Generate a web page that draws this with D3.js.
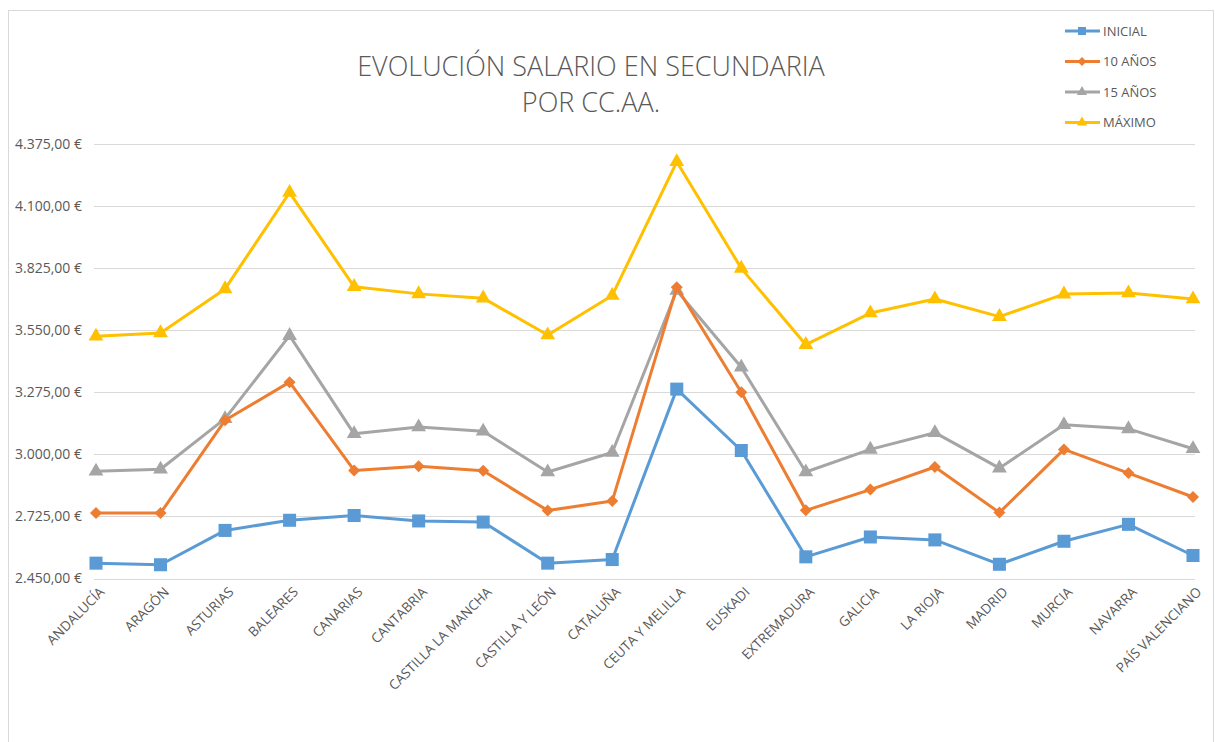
<!DOCTYPE html>
<html>
<head>
<meta charset="utf-8">
<script src="https://cdn.jsdelivr.net/npm/d3@7"></script>
<style>
  body { margin: 0; background: #fff; font-family: "Open Sans", sans-serif; }
  .grid line { stroke: #d9d9d9; stroke-width: 1; }
  .axis text { fill: #595959; font-size: 13.5px; }
</style>
</head>
<body>
<div id="chart"></div>
<script>
// categories (comunidades autónomas)
const regions = [
  "ANDALUCÍA", "ARAGÓN", "ASTURIAS", "BALEARES", "CANARIAS", "CANTABRIA",
  "CASTILLA LA MANCHA", "CASTILLA Y LEÓN", "CATALUÑA", "CEUTA Y MELILLA",
  "EUSKADI", "EXTREMADURA", "GALICIA", "LA RIOJA", "MADRID", "MURCIA",
  "NAVARRA", "PAÍS VALENCIANO"
];

// series values (€ / month)
const inicial = [2518, 2511, 2663, 2708, 2729, 2705, 2700, 2518, 2534, 3289, 3017, 2546, 2634, 2621, 2513, 2615, 2690, 2552];
const diezAnos = [2740, 2740, 3151, 3320, 2929, 2947, 2927, 2751, 2793, 3740, 3275, 2752, 2844, 2944, 2742, 3022, 2917, 2811];
const quinceAnos = [2925, 2934, 3158, 3526, 3091, 3121, 3102, 2922, 3008, 3726, 3386, 2922, 3022, 3096, 2939, 3131, 3113, 3025];
const maximo = [3523, 3538, 3733, 4160, 3743, 3711, 3692, 3529, 3704, 4296, 3824, 3486, 3626, 3688, 3610, 3710, 3715, 3688];

const yTicks = [2450, 2725, 3000, 3275, 3550, 3825, 4100, 4375];

const series = [
  { name: "INICIAL", values: inicial, color: "#5B9BD5", marker: "square" },
  { name: "10 AÑOS", values: diezAnos, color: "#ED7D31", marker: "diamond" },
  { name: "15 AÑOS", values: quinceAnos, color: "#A5A5A5", marker: "triangle" },
  { name: "MÁXIMO", values: maximo, color: "#FFC000", marker: "triangle" }
];

const width = 1215;
const height = 742;
const margin = { top: 144, right: 20, bottom: 163, left: 96 };
const plotRight = 1193;

const svg = d3.select("#chart")
  .append("svg")
  .attr("width", width)
  .attr("height", height);

// chart border
svg.append("rect")
  .attr("x", 8.5)
  .attr("y", 10.5)
  .attr("width", width - 10)
  .attr("height", height - 5)
  .attr("fill", "none")
  .attr("stroke", "#d9d9d9");

const x = d3.scalePoint()
  .domain(regions)
  .range([margin.left, plotRight]);

const y = d3.scaleLinear()
  .domain([2450, 4375])
  .range([height - margin.bottom - 0.5, margin.top]);

const es = d3.formatLocale({ decimal: ",", thousands: ".", grouping: [3], currency: ["", " €"] });
const fmt = v => es.format(",.2f")(v) + " €";

// gridlines
svg.append("g")
  .attr("class", "grid")
  .selectAll("line")
  .data(yTicks)
  .join("line")
  .attr("x1", margin.left - 2)
  .attr("x2", plotRight + 2)
  .attr("y1", d => Math.round(y(d)) + 0.5)
  .attr("y2", d => Math.round(y(d)) + 0.5);

// y axis labels
svg.append("g")
  .attr("class", "axis")
  .selectAll("text")
  .data(yTicks)
  .join("text")
  .attr("x", 82)
  .attr("y", d => y(d))
  .attr("dy", "0.35em")
  .attr("text-anchor", "end")
  .style("font-size", "14px")
  .text(fmt);

// x axis labels, rotated
svg.append("g")
  .attr("class", "axis")
  .selectAll("text")
  .data(regions)
  .join("text")
  .attr("transform", d => `translate(${x(d) + 6},${y(2450) + 11}) rotate(-45)`)
  .attr("text-anchor", "end")
  .attr("dy", "0.35em")
  .text(d => d);

// title
const title = svg.append("text")
  .attr("x", 591)
  .attr("y", 76)
  .attr("text-anchor", "middle")
  .attr("fill", "#595959")
  .style("font-size", "27px")
  .style("font-weight", 300);
title.append("tspan").attr("x", 591).text("EVOLUCIÓN SALARIO EN SECUNDARIA");
title.append("tspan").attr("x", 591).attr("dy", 36).text("POR CC.AA.");

function markerPath(type) {
  if (type === "square") return d3.symbol(d3.symbolSquare, 170)();
  if (type === "diamond") return "M0,-6L6,0L0,6L-6,0Z";
  return d3.symbol(d3.symbolTriangle, 95)();
}

const line = d3.line()
  .x((d, i) => x(regions[i]))
  .y(d => y(d));

const lines = svg.append("g");
series.slice().reverse().forEach(s => {
  const g = lines.append("g");
  g.append("path")
    .attr("d", line(s.values))
    .attr("fill", "none")
    .attr("stroke", s.color)
    .attr("stroke-width", 3)
    .attr("stroke-linejoin", "round");
  g.selectAll("path.pt")
    .data(s.values)
    .join("path")
    .attr("class", "pt")
    .attr("transform", (d, i) => `translate(${x(regions[i])},${y(d)})`)
    .attr("d", markerPath(s.marker))
    .attr("fill", s.color);
});

// legend
const legend = svg.append("g");
series.forEach((s, i) => {
  const ly = 31 + i * 30.5;
  legend.append("line")
    .attr("x1", 1065).attr("x2", 1100)
    .attr("y1", ly).attr("y2", ly)
    .attr("stroke", s.color)
    .attr("stroke-width", 3);
  legend.append("path")
    .attr("transform", `translate(1082,${ly})`)
    .attr("d", s.marker === "square" ? d3.symbol(d3.symbolSquare, 64)()
      : s.marker === "diamond" ? "M0,-4.5L4.5,0L0,4.5L-4.5,0Z"
      : d3.symbol(d3.symbolTriangle, 45)())
    .attr("fill", s.color);
  legend.append("text")
    .attr("x", 1103)
    .attr("y", ly)
    .attr("dy", "0.35em")
    .attr("fill", "#595959")
    .style("font-size", "13px")
    .text(s.name);
});
</script>
</body>
</html>
